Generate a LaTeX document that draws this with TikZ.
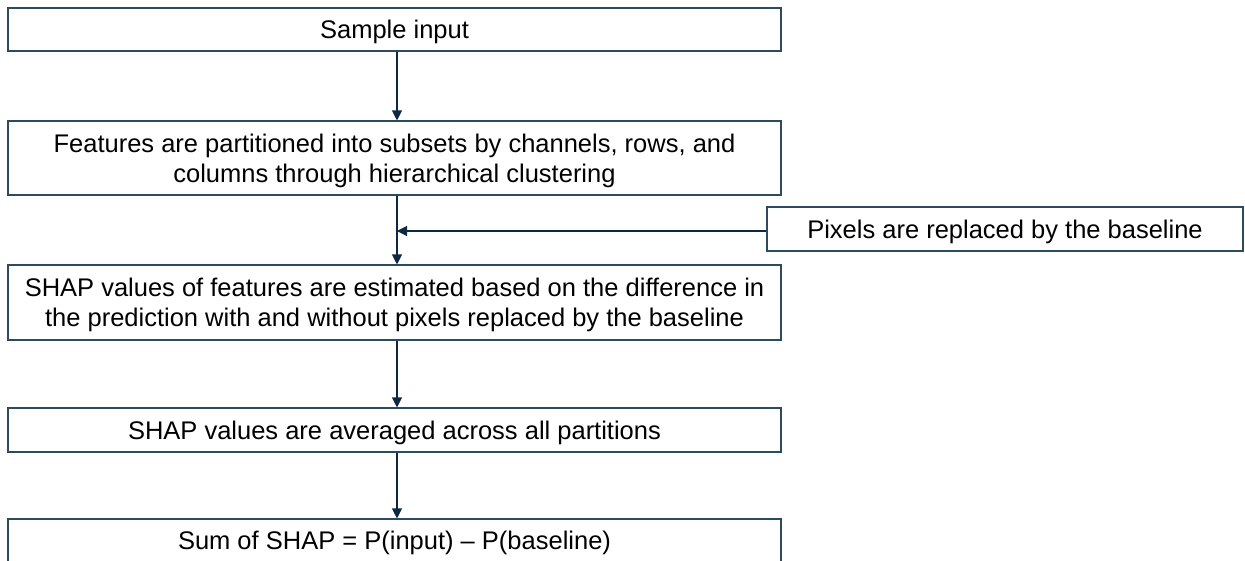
\documentclass[tikz,border=0pt]{standalone}
\usepackage{fontspec}
\setmainfont{Liberation Sans}
\usetikzlibrary{arrows.meta}
\definecolor{boxline}{HTML}{2E4A5E}
\definecolor{arrline}{HTML}{0E2841}
\begin{document}
\begin{tikzpicture}[x=1pt,y=-1pt,
  box/.style={draw=boxline,line width=1.1pt,rectangle,inner sep=0pt,align=center,
    text depth=0pt,font=\fontsize{25.5}{30}\selectfont,text=black},
  arr/.style={draw=arrline,line width=1.1pt,-{Triangle[width=10pt,length=10pt]}}]
\useasboundingbox (0,0) rectangle (1245,560);
\begin{scope}
\clip (0,0) rectangle (1245,560);
\node[box,minimum width=773pt,minimum height=43pt] (b1) at (394.5,29.5) {Sample input};
\node[box,minimum width=773pt,minimum height=74pt] (b2) at (394.5,158) {Features are partitioned into subsets by channels, rows, and\\columns through hierarchical clustering};
\node[box,minimum width=476pt,minimum height=44pt] (b3) at (1005,229) {Pixels are replaced by the baseline};
\node[box,minimum width=773pt,minimum height=75pt] (b4) at (394.5,302.5) {SHAP values of features are estimated based on the difference in\\the prediction with and without pixels replaced by the baseline};
\node[box,minimum width=773pt,minimum height=44pt] (b5) at (394.5,430) {SHAP values are averaged across all partitions};
\node[box,minimum width=773pt,minimum height=46pt] (b6) at (394.5,542) {};
\node[font=\fontsize{25.5}{30}\selectfont,text depth=0pt] (t6) at (394.5,540) {Sum of SHAP = P(input) – P(baseline)};
\end{scope}
\coordinate (j) at (397,0);
\coordinate (j2) at (397,231);
\draw[arr] (b1.south -| j) -- (b2.north -| j);
\draw[draw=arrline,line width=1.1pt] (b2.south -| j) -- (j2);
\draw[arr] (j2) -- (b4.north -| j);
\draw[arr] (b3.west |- j2) -- (j2);
\draw[arr] (b4.south -| j) -- (b5.north -| j);
\draw[arr] (b5.south -| j) -- (b6.north -| j);
\end{tikzpicture}
\end{document}
